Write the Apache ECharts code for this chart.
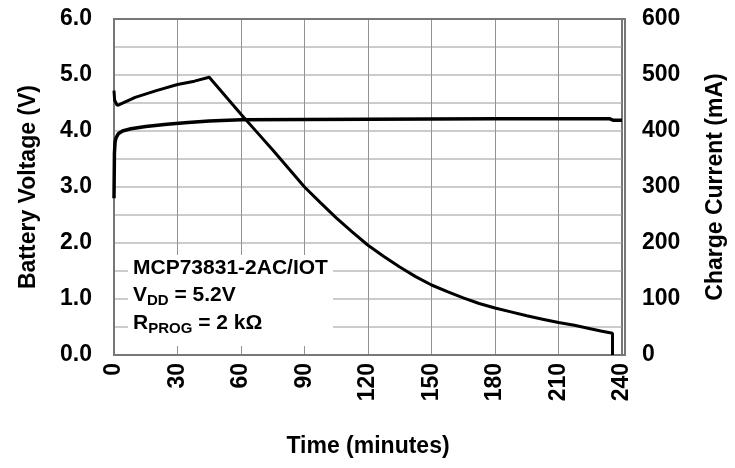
<!DOCTYPE html>
<html>
<head>
<meta charset="utf-8">
<script src="https://cdn.jsdelivr.net/npm/echarts@6/dist/echarts.min.js"></script>
<style>
  html, body { margin: 0; padding: 0; background: #fff; }
  #main { width: 735px; height: 468px; }
</style>
</head>
<body>
<div id="main"></div>
<script>
    // battery voltage (V) vs time (min)
    var voltTime = [0, 0.2, 0.5, 1, 2, 4, 8, 15, 25, 35, 45, 60, 120, 180, 234, 236, 240];
    var voltage  = [2.8, 3.6, 3.8, 3.88, 3.95, 4.0, 4.04, 4.08, 4.12, 4.15, 4.18, 4.2, 4.21, 4.22, 4.22, 4.19, 4.19];

    // charge current (mA) vs time (min)
    var currTime = [0, 0.3, 1.5, 2.5, 10, 20, 30, 38, 45, 52.5, 60, 67.5, 75, 82.5, 90, 97.5, 105, 112.5, 120,
                    127.5, 135, 142.5, 150, 157.5, 165, 172.5, 180, 187.5, 195, 202.5, 210, 217.5, 225, 230, 235.5, 235.5];
    var current  = [472, 455, 446, 447, 460, 472, 483, 489, 496, 463, 430, 398, 366, 333, 300, 272, 245, 220, 196,
                    176, 157, 140, 125, 113, 102, 92, 84, 77, 70, 64, 58, 53, 47, 43, 39, 0];

    var voltTicks = [0, 1, 2, 3, 4, 5, 6];
    var currTicks = [0, 100, 200, 300, 400, 500, 600];
    // horizontal grid lines (V)
    var voltGrid = [0.5, 1, 1.5, 2, 2.5, 3, 3.5, 4, 4.5, 5, 5.5];

    function pairs(xs, ys) {
        var out = [];
        for (var i = 0; i < xs.length; i++) out.push([xs[i], ys[i]]);
        return out;
    }

    var font = '"Liberation Sans", Arial, sans-serif';
    var lbl = { color: '#000', fontFamily: font, fontWeight: 'bold', fontSize: 23 };
    var G = { left: 114, right: 110, top: 19, bottom: 113 };

    // one thin series per horizontal grid line, across the full time range
    var gridSeries = voltGrid.map(function (v) {
        return {
            type: 'line', yAxisIndex: 0, z: 1, silent: true,
            showSymbol: false, animation: false,
            data: [[0, v], [240, v]],
            lineStyle: { color: '#9a9a9a', width: 1 },
            emphasis: { disabled: true }
        };
    });

    var chart = echarts.init(document.getElementById('main'));
    chart.setOption({
        animation: false,
        tooltip: { show: false },
        grid: G,
        xAxis: {
            type: 'value', min: 0, max: 240, interval: 30,
            name: 'Time (minutes)', nameLocation: 'middle', nameGap: 80,
            nameTextStyle: lbl,
            axisLine: { show: true, onZero: false, lineStyle: { color: '#777', width: 2 } },
            axisTick: { show: false },
            axisLabel: Object.assign({ rotate: 90, margin: 8 }, lbl),
            splitLine: { show: true, lineStyle: { color: '#929292', width: 1 } }
        },
        yAxis: [{
            type: 'value', min: 0, max: 6, interval: 0.5,
            name: 'Battery Voltage (V)', nameLocation: 'middle', nameGap: 74, nameRotate: 90,
            nameTextStyle: lbl,
            axisLine: { show: true, onZero: false, lineStyle: { color: '#777', width: 2 } },
            axisTick: { show: false },
            axisLabel: Object.assign({
                margin: 22,
                formatter: function (v) { return voltTicks.indexOf(v) >= 0 ? v.toFixed(1) : ''; }
            }, lbl),
            splitLine: { show: false }
        }, {
            type: 'value', min: 0, max: 600, interval: 50, position: 'right',
            name: 'Charge Current (mA)', nameLocation: 'middle', nameGap: 82, nameRotate: 90,
            nameTextStyle: lbl,
            axisLine: { show: true, onZero: false, lineStyle: { color: '#777', width: 2 } },
            axisTick: { show: false },
            axisLabel: Object.assign({
                margin: 20,
                formatter: function (v) { return currTicks.indexOf(v) >= 0 ? String(v) : ''; }
            }, lbl),
            splitLine: { show: false }
        }],
        graphic: [{
            // plot frame
            type: 'rect', z: 40, silent: true,
            shape: { x: G.left, y: G.top, width: 735 - G.left - G.right, height: 468 - G.top - G.bottom },
            style: { fill: null, stroke: '#777', lineWidth: 2 }
        }, {
            type: 'rect', left: 128, top: 255, z: 50,
            shape: { width: 205, height: 91 },
            style: { fill: '#fff' }
        }, {
            type: 'text', left: 133, top: 258, z: 51,
            style: {
                text: 'MCP73831-2AC/IOT',
                fill: '#000', font: 'bold 21px "Liberation Sans", Arial, sans-serif'
            }
        }, {
            type: 'text', left: 133, top: 285, z: 51,
            style: {
                text: '{m|V}{s|DD}{m| = 5.2V}',
                rich: {
                    m: { fill: '#000', fontFamily: font, fontWeight: 'bold', fontSize: 21, lineHeight: 26 },
                    s: { fill: '#000', fontFamily: font, fontWeight: 'bold', fontSize: 15, lineHeight: 26, verticalAlign: 'bottom' }
                }
            }
        }, {
            type: 'text', left: 133, top: 313, z: 51,
            style: {
                text: '{m|R}{s|PROG}{m| = 2 kΩ}',
                rich: {
                    m: { fill: '#000', fontFamily: font, fontWeight: 'bold', fontSize: 21, lineHeight: 26 },
                    s: { fill: '#000', fontFamily: font, fontWeight: 'bold', fontSize: 15, lineHeight: 26, verticalAlign: 'bottom' }
                }
            }
        }],
        series: gridSeries.concat([{
            name: 'Voltage', type: 'line', yAxisIndex: 0,
            data: pairs(voltTime, voltage),
            showSymbol: false, z: 45,
            lineStyle: { color: '#000', width: 3.5 }
        }, {
            name: 'Current', type: 'line', yAxisIndex: 1,
            data: pairs(currTime, current),
            showSymbol: false, z: 45,
            lineStyle: { color: '#000', width: 3 }
        }])
    });
</script>
</body>
</html>
